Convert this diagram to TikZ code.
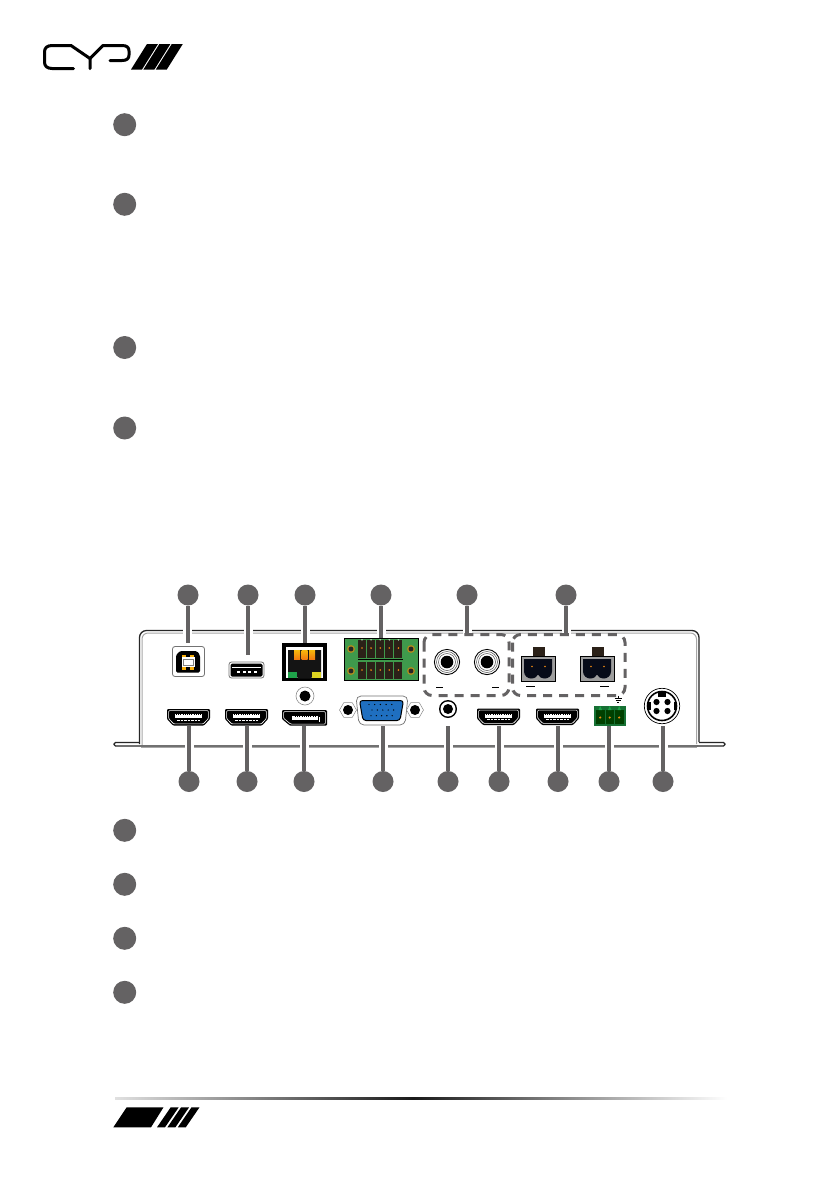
\documentclass[tikz,border=0pt]{standalone}
\usetikzlibrary{shapes.geometric}
\definecolor{bul}{HTML}{646263}
\definecolor{pcbg}{HTML}{3F9A4C}
\definecolor{tgreen}{HTML}{1FA24A}
\definecolor{dkpin}{HTML}{2B2118}
\definecolor{org}{HTML}{F08A12}
\definecolor{vblue}{HTML}{1F6FC0}
\definecolor{lobe}{HTML}{070B18}
\tikzset{
  bullet/.style={circle,fill=bul,inner sep=0pt,minimum size=21pt},
  listbullet/.style={circle,fill=bul,inner sep=0pt,minimum size=23pt},
  stem/.style={draw=bul,line width=3.3pt},
  halo/.style={draw=white,line width=9pt},
  dashbox/.style={draw=bul,line width=3pt,rounded corners=8pt,dash pattern=on 9pt off 7pt},
  shell/.style={draw=black!85,line width=1.3pt,line join=round},
  shell2/.style={draw=black!35,line width=1pt,line join=round},
  tick/.style={draw=black,line width=.8pt},
  logoline/.style={draw=black,line width=3pt,line cap=round,line join=round}
}
\newcommand{\hdmiport}[2]{%
  \begin{scope}[shift={(#1,#2)}]
    \fill[black,rounded corners=1pt] (0,0)--(43,0)--(43,10)--(37,16.5)--(6,16.5)--(0,10)--cycle;
    \draw[white,line width=.6pt,rounded corners=1pt] (1.6,1.6)--(41.4,1.6)--(41.4,9.5)--(36.3,14.9)--(6.7,14.9)--(1.6,9.5)--cycle;
    \fill[white] (8,5)rectangle(35,9);
    \foreach \k in {0,...,11}{\fill[black] (9+2.2*\k,4.7) rectangle (9.8+2.2*\k,6);}
    \draw[white,line width=.7pt,dash pattern=on 2.5pt off 1pt] (10,11.3)--(33,11.3);
  \end{scope}}
\newcommand{\phoenix}[2]{%
  \begin{scope}[shift={(#1,#2)}]
    \fill[dkpin] (12,0) rectangle (23.5,9);
    \draw[black,line width=.8pt,fill=black!38] (0,9) rectangle (34,34);
    \fill[lobe] (3,12) -- (31,12) -- (31,24.5) .. controls (31,29) and (27,31.5) .. (24,31.5) .. controls (20,31.5) and (18,29.5) .. (17,27.5) .. controls (16,29.5) and (14,31.5) .. (10,31.5) .. controls (7,31.5) and (3,29) .. (3,24.5) -- cycle;
    \fill[org] (11,19.5) circle (.9);
    \fill[org] (24,19.5) circle (.9);
  \end{scope}}
\newcommand{\rcajack}[2]{%
  \fill[white] (#1,#2) circle (13);
  \draw[black,line width=.9pt] (#1,#2) circle (12.6);
  \draw[black!70,line width=.5pt] (#1,#2) circle (10.5);
  \draw[black!70,line width=.5pt] (#1,#2) circle (8.5);
  \fill[black] (#1,#2) circle (6.3);}
\begin{document}
\begin{tikzpicture}[x=1pt,y=-1pt]
\useasboundingbox (0,0) rectangle (840,1192);
\fill[white] (0,0) rectangle (840,1192);
% logo
\draw[logoline] (73.5,68.5)--(52,68.5) .. controls (47,68.5) and (44.5,66) .. (44.5,62) -- (44.5,52) .. controls (44.5,48) and (47,45.5) .. (52,45.5) -- (71,45.5) -- (90,58.5) -- (90,68.5);
\draw[logoline] (90,58.5)--(103,45.5)--(122,45.5) .. controls (127,45.5) and (129,47.5) .. (129,51)--(129,55) .. controls (129,58.5) and (127,60.5) .. (122,60.5)--(110,60.5);
\foreach \d in {0,12.4,24.8}{\fill[black] (131+\d,69.5)--(147+\d,44)--(158+\d,44)--(142+\d,69.5)--cycle;}
% list bullets
\node[listbullet] (la) at (124.7,124.7) {};
\node[listbullet] (lb) at (124.7,204.3) {};
\node[listbullet] (lc) at (124.7,347.5) {};
\node[listbullet] (ld) at (124.7,428) {};
\node[listbullet] (le) at (124.7,830.3) {};
\node[listbullet] (lf) at (124.7,884.3) {};
\node[listbullet] (lg) at (124.7,938.3) {};
\node[listbullet] (lh) at (124.7,992.3) {};
% device outline
\draw[shell,rounded corners=7pt] (139.5,744)--(139.5,630.5)--(699,630.5)--(699,742);
\draw[shell2,rounded corners=6pt] (142,745)--(142,633)--(696.5,633)--(696.5,744);
\draw[shell,rounded corners=1.5pt] (139.5,742.5)--(114,742.5)--(114,746)--(697,746);
\draw[shell,rounded corners=1.5pt] (699,742.5)--(725,742.5)--(725,746)--(697,746);
\draw[shell2] (141,747.3)--(697,747.3);
\foreach \x in {187.5,248,305,381,467,566}{\draw[halo] (\x,628)--(\x,635);}
\foreach \x in {189,247,304,383,448,499,558,609,663}{\draw[halo] (\x,743)--(\x,749);}
% USB-B
\draw[black!55,fill=white,line width=.8pt,rounded corners=2.5pt] (172.5,646.5) rectangle (204.5,676.5);
\fill[black,rounded corners=1.5pt] (180,651)--(197,651)--(200,655)--(200,672.5)--(176,672.5)--(176,655)--cycle;
\fill[white] (181.5,657) rectangle (195,667);
\draw[black!50,line width=.4pt] (183.5,659) rectangle (193,665);
\fill[org!70!yellow] (182,654.5) rectangle (186,657);
\fill[org!70!yellow] (190,654.5) rectangle (194,657);
\fill[org!70!yellow] (182,667) rectangle (186,669.5);
\fill[org!70!yellow] (190,667) rectangle (194,669.5);
% USB-A
\draw[black!55,fill=white,line width=.8pt,rounded corners=2.5pt] (229,662) rectangle (264,678);
\fill[black,rounded corners=1.5pt] (230.5,663.5) rectangle (262.5,676.5);
\draw[white,line width=.8pt] (232,667.5)--(261,667.5);
\foreach \x in {237,242.5,248,253.5}{\fill[white] (\x,670.5) rectangle (\x+3,672.5);}
% RJ45
\fill[black] (282,643) rectangle (327,681);
\fill[white] (286,647) rectangle (323,677.5);
\fill[black!92] (288,650)--(321,650)--(321,677.5)--(311,677.5)--(311,678.5)--(298,678.5)--(298,677.5)--(288,677.5)--cycle;
\foreach \x in {294,301.5,309}{
  \shade[top color=org!60!yellow,bottom color=org!90!red] (\x,650) rectangle (\x+6.2,659);}
\fill[tgreen] (287.5,672) rectangle (297,678);
\fill[yellow!85!black] (311.5,672) rectangle (321,678);
% small jack
\draw[black!45,fill=white,line width=.6pt] (305,696) circle (9);
\fill[black] (305,696) circle (5.5);
% DP
\fill[black,rounded corners=1pt] (282,710)--(327,710)--(327,725.7)--(290,725.7)--(282,719)--cycle;
\draw[white,line width=.6pt,rounded corners=1pt] (283.6,711.6)--(325.4,711.6)--(325.4,724.1)--(290.7,724.1)--(283.6,718.3)--cycle;
\fill[white] (292,716) rectangle (318,719.5);
\foreach \k in {0,...,9}{\fill[black] (295+2.2*\k,715.8) rectangle (296+2.2*\k,717);}
\fill[white] (319,717) rectangle (320,722);
% green 12-pin block
\fill[pcbg] (344,638) rectangle (418,680);
\draw[black,line width=.7pt] (344,638) rectangle (418,680);
\foreach \x in {358,367.1,376.2,385.3,394.4}{
  \fill[dkpin] (\x,640) rectangle (\x+8,658);
  \fill[dkpin] (\x,662) rectangle (\x+8,679);
  \fill[org] (\x+4,648) circle (.9);
  \fill[org] (\x+4,670) circle (.9);
  \fill[pcbg!50!white] (\x+3,639) -- (\x+5,639) -- (\x+4,641) -- cycle;
}
\draw[black,line width=.5pt] (358,659.7)--(403,659.7);
\foreach \p in {351,411}{
  \foreach \q in {649,671}{
    \fill[black!30!brown!70!yellow] (\p,\q) circle (4);
    \fill[black!85] (\p,\q) circle (2.4);
  }}
% VGA
\draw[black!55,fill=white,line width=.7pt,rounded corners=5pt] (356,696)--(408,696)--(405,725)--(359,725)--cycle;
\draw[black,fill=vblue,line width=1pt,rounded corners=3pt] (359.5,700.5)--(403.5,700.5)--(400,720.5)--(363,720.5)--cycle;
\foreach \k in {0,...,4}{
  \fill[black] (369+5.7*\k,704.5) circle (.7);
  \fill[black] (372+5.4*\k,710) circle (.7);
  \fill[black] (371+5.3*\k,715.7) circle (.7);}
\node[regular polygon,regular polygon sides=6,draw=black!45,fill=white,line width=.5pt,minimum size=17pt,inner sep=0pt] (vsl) at (348,710) {};
\node[regular polygon,regular polygon sides=6,draw=black!45,fill=white,line width=.5pt,minimum size=17pt,inner sep=0pt] (vsr) at (415,710) {};
\fill[black] (348,710) circle (5);
\fill[black] (415,710) circle (5);
% RCA
\rcajack{447}{662}
\rcajack{487}{662}
\draw[tick] (436,687)--(443,687);
\draw[tick] (492,687)--(499,687);
% audio jack
\fill[black] (448,709) circle (9);
\fill[white] (448,709) circle (7.5);
\fill[black] (448,709) circle (5);
% HDMI
\hdmiport{167}{709}
\hdmiport{225}{709}
\hdmiport{477}{708.5}
\hdmiport{536}{708.5}
% phoenix
\phoenix{521}{647}
\phoenix{580}{647}
\draw[tick] (526,686.5)--(535,686.5);
\draw[tick] (600,686.5)--(609,686.5);
% dashed groups
\draw[dashbox] (424,634.5) rectangle (509,695.5);
\draw[dashbox] (512.5,634.5) rectangle (625,695.5);
% green 3-pin
\fill[tgreen!70!black] (594,706) rectangle (626,726);
\foreach \x in {596,605.5,615}{
  \fill[black!75!green] (\x,710) rectangle (\x+8.5,724);
  \fill[tgreen] (\x+2.5,710)--(\x+4.2,706)--(\x+6,710)--cycle;
  \fill[org] (\x+4.2,717.5) circle (1.2);
}
\draw[black,line width=.7pt] (618,695.5)--(618,698) (614.5,698.5)--(621.5,698.5) (615.5,700.5)--(620.5,700.5) (617,702.5)--(619,702.5);
% power DIN
\fill[white] (662,706) circle (18);
\draw[black,line width=.7pt] (662,706) circle (17.7);
\draw[black,line width=1.6pt] (662,706) circle (14.5);
\fill[black] (658,691.5) rectangle (666,697);
\fill[black] (648,702) rectangle (650.5,710);
\fill[black] (673.5,702) rectangle (676,710);
\foreach \x/\y in {656.5/702,667.5/702,656.5/711,667.5/711}{\fill[black] (\x,\y) circle (3.1);}
% footer
\shade[left color=black!12,right color=black!90] (115,1097.8) rectangle (413,1099.8);
\shade[left color=black!90,right color=white] (413,1097.8) rectangle (727,1099.8);
\fill[black] (113.3,1127.3)--(126.7,1107.3)--(163.5,1107.3)--(151,1127.3)--cycle;
\foreach \d in {0,10.4,20.8}{\fill[black] (157+\d,1127.3)--(170.7+\d,1107.3)--(178.7+\d,1107.3)--(165+\d,1127.3)--cycle;}
% callouts top
\node[bullet] (ta) at (188,595) {};
\node[bullet] (tb) at (248,595) {};
\node[bullet] (tc) at (305,595) {};
\node[bullet] (td) at (381,595) {};
\node[bullet] (te) at (467,595) {};
\node[bullet] (tf) at (566,595) {};
\coordinate (tae) at (188,643);
\coordinate (tbe) at (248,655);
\coordinate (tce) at (305,643);
\coordinate (tde) at (381,638);
\coordinate (tee) at (467,634);
\coordinate (tfe) at (566,634);
\foreach \n in {ta,tb,tc,td,te,tf}{\draw[stem] (\n) -- (\n e);}
% callouts bottom
\node[bullet] (ba) at (189,781.5) {};
\node[bullet] (bb) at (247,781.5) {};
\node[bullet] (bc) at (304,781.5) {};
\node[bullet] (bd) at (383,781.5) {};
\node[bullet] (be) at (448,781.5) {};
\node[bullet] (bf) at (499,781.5) {};
\node[bullet] (bg) at (558,781.5) {};
\node[bullet] (bh) at (609,781.5) {};
\node[bullet] (bi) at (663,781.5) {};
\coordinate (bae) at (189,726);
\coordinate (bbe) at (247,726);
\coordinate (bce) at (304,726);
\coordinate (bde) at (383,726);
\coordinate (bee) at (448,726);
\coordinate (bfe) at (499,726);
\coordinate (bge) at (558,726);
\coordinate (bhe) at (609,726);
\coordinate (bie) at (663,726);
\foreach \n in {ba,bb,bc,bd,be,bf,bg,bh,bi}{\draw[stem] (\n) -- (\n e);}
\end{tikzpicture}
\end{document}
